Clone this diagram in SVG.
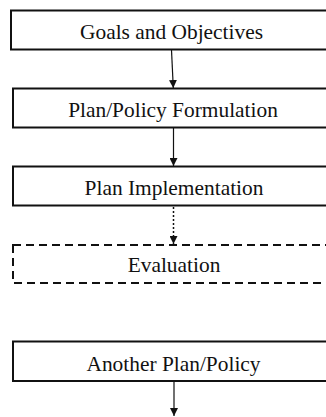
<svg xmlns="http://www.w3.org/2000/svg" width="326" height="417" viewBox="0 0 326 417">
<style>
.box{fill:#fff;stroke:#111;stroke-width:2}
.dash{fill:none;stroke:#111;stroke-width:2;stroke-dasharray:8 5}
.lbl{font-family:"Liberation Serif","Times New Roman",serif;font-size:21.4px;fill:#111;text-anchor:middle}
.ln{stroke:#111;stroke-width:1.2;fill:none}
.dot{stroke:#111;stroke-width:1.5;fill:none;stroke-dasharray:2 2}
</style>
<defs>
<marker id="ah" viewBox="0 0 10 10" refX="10" refY="5" markerWidth="8" markerHeight="8" markerUnits="userSpaceOnUse" orient="auto">
<path d="M0,0 L10,5 L0,10 Z" fill="#111"/>
</marker>
</defs>
<rect width="326" height="417" fill="#fff"/>
<g id="connectors">
<line class="ln" x1="171.5" y1="50" x2="173.3" y2="88" marker-end="url(#ah)"/>
<line class="ln" x1="173.5" y1="128" x2="173.5" y2="166" marker-end="url(#ah)"/>
<line class="dot" x1="173.5" y1="207" x2="173.5" y2="244" marker-end="url(#ah)"/>
<line class="ln" x1="174" y1="382" x2="174" y2="416" marker-end="url(#ah)"/>
</g>
<g id="goals">
<rect class="box" x="11" y="10.5" width="330" height="39"/>
<text class="lbl" x="171.5" y="38.5">Goals and Objectives</text>
</g>
<g id="formulation">
<rect class="box" x="13" y="88.5" width="330" height="39"/>
<text class="lbl" x="173" y="117">Plan/Policy Formulation</text>
</g>
<g id="implementation">
<rect class="box" x="13" y="166.5" width="330" height="39"/>
<text class="lbl" x="174" y="195">Plan Implementation</text>
</g>
<g id="evaluation">
<rect class="dash" x="13" y="245" width="330" height="38"/>
<text class="lbl" x="174" y="272">Evaluation</text>
</g>
<g id="another">
<rect class="box" x="13" y="341.5" width="330" height="39.5"/>
<text class="lbl" x="173.5" y="370.5">Another Plan/Policy</text>
</g>
</svg>
